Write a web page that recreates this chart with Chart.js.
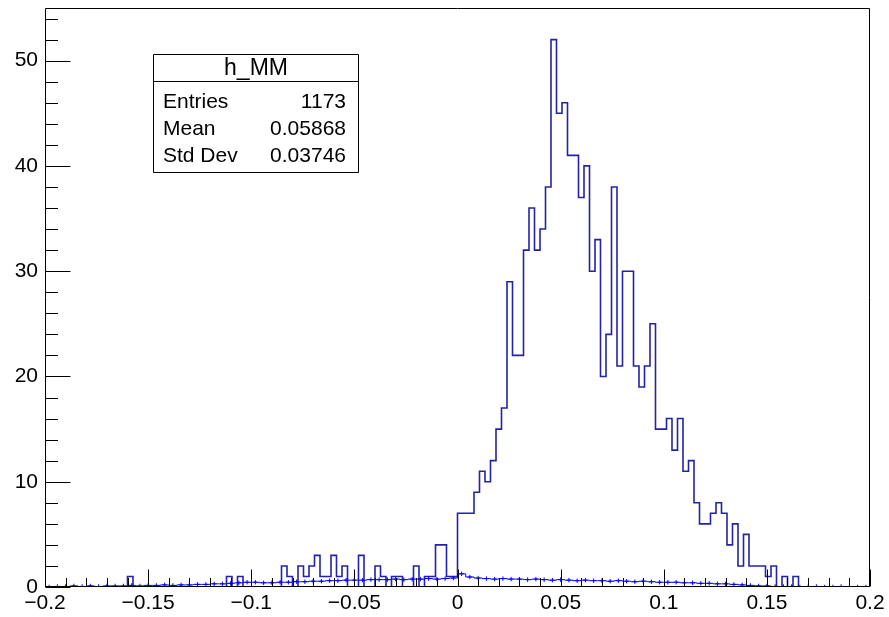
<!DOCTYPE html>
<html><head><meta charset="utf-8">
<script src="https://cdn.jsdelivr.net/npm/chart.js@4.4.1/dist/chart.umd.min.js"></script>
<style>html,body{margin:0;padding:0;background:#fff;}#wrap{width:889px;height:617px;}</style>
</head><body><div id="wrap"><canvas id="c" width="889" height="617"></canvas></div>
<script>
// ---- data ----
const histName = "h_MM";
const statLabels = ["Entries", "Mean", "Std Dev"];
const statValues = ["1173", "0.05868", "0.03746"];

const xMin = -0.2, xMax = 0.2;
const nBins = 150;           // main histogram bins
const counts = [
  0,0,0,0,0, 0,0,0,0,0, 0,0,0,0,0, 1,0,0,0,0, 0,0,0,0,0, 0,0,0,0,0,
  0,0,0,1,0, 1,0,0,0,0, 0,0,0,2,1, 0,2,1,2,3, 1,1,3,1,2, 0,0,3,0,0,
  2,1,0,1,1, 0,0,2,0,1, 1,4,4,1,1, 7,7,7,9,11, 10,12,15,17,29, 22,22,32,36,32,
  34,38,52,45,46, 41,41,37,40,30, 33,20,24,38,21, 30,30,21,19,21, 25,15,15,16,13, 16,11,12,8,6,
  6,7,8,7,4, 6,2,5,2,2, 2,1,2,0,1, 0,1,0,0,0, 0,0,0,0,0, 0,0,0,0,0
];

const nBins2 = 100;          // overlay (points with error bars)
const overlay = [
  0,0.05,0.05,0.1,0.05,0.1,0.05,0.1,0.1,0.1,0.15,0.1,0.15,
  0.15,0.2,0.15,0.2,0.2,0.25,0.25,0.3,0.3,0.35,0.4,0.45,0.45,
  0.4,0.4,0.45,0.45,0.5,0.5,0.55,0.55,0.6,0.6,0.65,0.65,
  0.65,0.7,0.7,0.7,0.75,0.7,0.75,0.75,0.8,0.75,0.8,0.85,
  1.25,0.95,0.85,
  0.8,0.75,0.8,0.75,0.75,0.7,0.75,0.7,0.65,0.7,
  0.65,0.6,0.65,0.6,0.6,0.55,0.6,0.55,0.5,0.55,0.5,0.45,0.45,
  0.45,0.4,0.4,0.35,0.35,0.3,0.3,0.25,0.2,0.15,0.1,0.1,
  0.05,0.05,0.05,0,0,0.05,0,0,0.05,0,0,0
];

const xTickLabels = [-0.2, -0.15, -0.1, -0.05, 0, 0.05, 0.1, 0.15, 0.2];
const yTickLabels = [0, 10, 20, 30, 40, 50];
const yMax = 55;

// ---- build datasets ----
const w1 = (xMax - xMin) / nBins;
const histPts = counts.map((c, i) => ({x: xMin + i * w1, y: c}));
histPts.push({x: xMax, y: counts[counts.length - 1]});
const w2 = (xMax - xMin) / nBins2;
const ovPts = overlay.map((v, i) => ({x: xMin + (i + 0.5) * w2, y: v}));

const FONT = '"Liberation Sans", Arial, Helvetica, sans-serif';

function fmtX(v) {
  const r = Math.round(v * 100) / 100;
  if (r === 0) return "0";
  const s = String(Math.abs(r));
  return (r < 0 ? "\u2212" : "") + s;
}

const rootPlugin = {
  id: 'rootFrame',
  afterDatasetsDraw(chart) {
    const {ctx, chartArea: ca, scales: {x, y}} = chart;
    ctx.save();
    ctx.strokeStyle = '#000';
    ctx.lineWidth = 1;
    const L = Math.round(ca.left) + 0.5, R = Math.round(ca.right) - 0.5;
    const T = Math.round(ca.top) + 0.5, B = Math.round(ca.bottom) - 0.5;
    ctx.beginPath();
    ctx.rect(L, T, R - L, B - T);
    ctx.stroke();
    // x ticks (inward)
    ctx.beginPath();
    for (let k = 0; k <= 40; k++) {
      const v = xMin + k * 0.01;
      const px = Math.round(x.getPixelForValue(v)) + 0.5;
      const len = (k % 5 === 0) ? 17 : 8.5;
      ctx.moveTo(px, B); ctx.lineTo(px, B - len);
    }
    // y ticks (inward)
    for (let k = 0; 2 * k <= yMax; k++) {
      const py = Math.round(y.getPixelForValue(2 * k)) + 0.5;
      const len = (k % 5 === 0) ? 25 : 12.5;
      ctx.moveTo(L, py); ctx.lineTo(L + len, py);
    }
    ctx.stroke();
    // stats box
    const bx = 153.5, by = 54.5, bw = 205, bh = 118;
    ctx.fillStyle = '#fff';
    ctx.fillRect(bx, by, bw, bh);
    ctx.beginPath();
    ctx.rect(bx, by, bw, bh);
    ctx.moveTo(bx, 81.5); ctx.lineTo(bx + bw, 81.5);
    ctx.stroke();
    ctx.fillStyle = '#000';
    ctx.textBaseline = 'alphabetic';
    ctx.font = '23px ' + FONT;
    ctx.textAlign = 'center';
    ctx.fillText(histName, bx + bw / 2, 75);
    ctx.font = '21px ' + FONT;
    const rowsY = [108, 135, 162];
    statLabels.forEach((lab, i) => {
      ctx.textAlign = 'left';
      ctx.fillText(lab, 163, rowsY[i]);
      ctx.textAlign = 'right';
      ctx.fillText(statValues[i], 346, rowsY[i]);
    });
    ctx.restore();
  }
};

new Chart(document.getElementById('c'), {
  type: 'line',
  data: {
    datasets: [
      {
        label: 'overlay', data: ovPts, order: 0,
        borderColor: '#0000ff', backgroundColor: '#0000ff', borderWidth: 1,
        stepped: 'middle', pointStyle: 'cross', pointRadius: 2.2,
        pointBorderColor: '#0000ff', pointBorderWidth: 1, fill: false
      },
      {
        label: histName, data: histPts, order: 1,
        borderColor: '#2323a8', borderWidth: 1.6, stepped: true,
        pointRadius: 0, fill: false
      }
    ]
  },
  options: {
    responsive: false, animation: false, devicePixelRatio: 1,
    layout: {padding: {top: 8, right: 19, left: 0, bottom: 0}},
    plugins: {legend: {display: false}, tooltip: {enabled: false}},
    scales: {
      x: {
        type: 'linear', min: xMin, max: xMax,
        afterBuildTicks: s => { s.ticks = xTickLabels.map(v => ({value: v})); },
        afterFit: s => { s.height = 30; s.paddingLeft = 0; s.paddingRight = 0; },
        grid: {display: false, drawTicks: false}, border: {display: false},
        ticks: {callback: v => fmtX(v), autoSkip: false, maxRotation: 0, padding: 4,
                color: '#000', font: {family: FONT, size: 21}}
      },
      y: {
        type: 'linear', min: 0, max: yMax,
        afterBuildTicks: s => { s.ticks = yTickLabels.map(v => ({value: v})); },
        afterFit: s => { s.width = 45; s.paddingTop = 0; s.paddingBottom = 0; },
        grid: {display: false, drawTicks: false}, border: {display: false},
        ticks: {autoSkip: false, padding: 7, color: '#000', font: {family: FONT, size: 21}}
      }
    }
  },
  plugins: [rootPlugin]
});
</script>
</body></html>
